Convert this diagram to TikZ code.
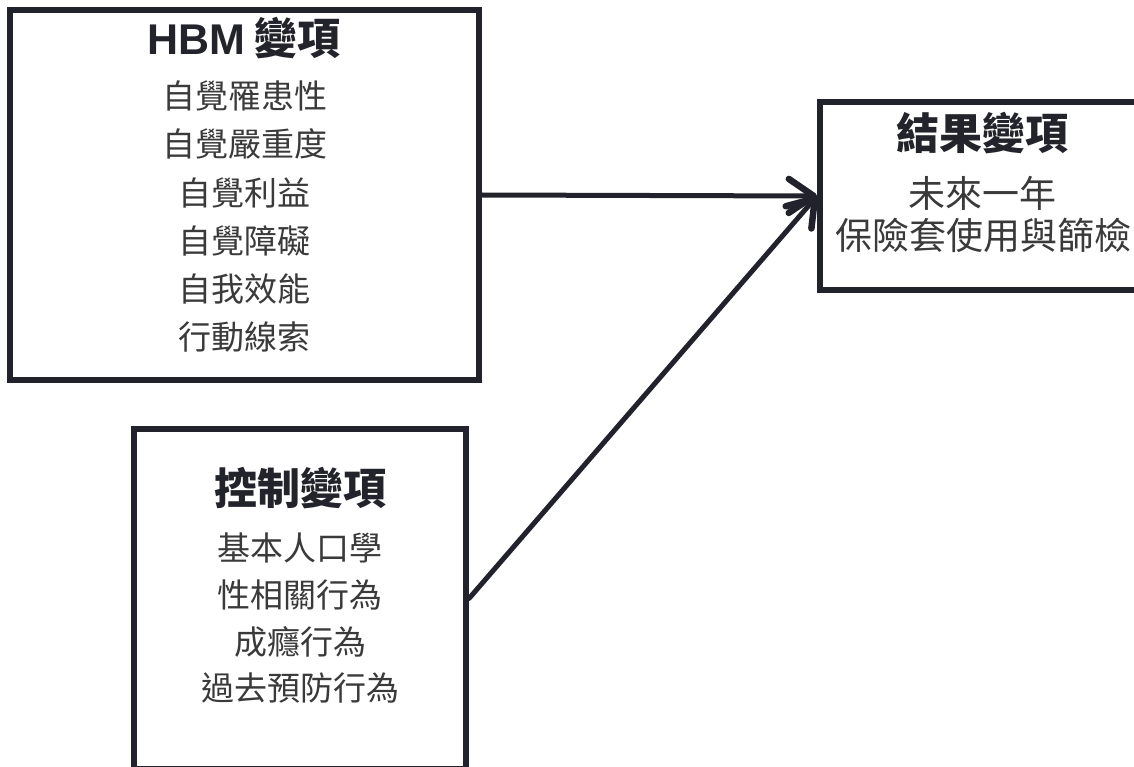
\documentclass[tikz,border=0pt]{standalone}
\usepackage{fontspec}
\setmainfont{Noto Sans CJK TC}
\newfontfamily\latinfont{Liberation Sans}
\usetikzlibrary{arrows.meta}
\definecolor{linec}{HTML}{22222C}
\definecolor{titlec}{HTML}{23232B}
\definecolor{itemc}{HTML}{3A3A3A}
\begin{document}
\begin{tikzpicture}[x=1pt,y=-1pt,
  box/.style={draw=linec,line width=6pt,rectangle,inner sep=0pt,fill=white},
  ttl/.style={inner sep=0pt,text height=37.8pt,text depth=5.2pt,text=titlec,font=\fontsize{43}{43}\selectfont\bfseries},
  itm/.style={inner sep=0pt,text height=29pt,text depth=4pt,text=itemc,font=\fontsize{33}{33}\selectfont},
  itmb/.style={inner sep=0pt,text height=32.6pt,text depth=4.4pt,text=itemc,font=\fontsize{37}{37}\selectfont},
  conn/.style={draw=linec,line width=5pt,line cap=round,
    -{Straight Barb[length=25pt,width=34pt,line width=6.5pt,round]}}]
\useasboundingbox (0,0) rectangle (1134,767);
\fill[white] (0,0) rectangle (1134,767);
\clip (0,0) rectangle (1134,767);
% boxes
\node[box,minimum width=469pt,minimum height=370pt] (hbm) at (244.5,195) {};
\node[box,minimum width=332pt,minimum height=340pt] (ctrl) at (300,598.5) {};
\node[box,minimum width=324pt,minimum height=188pt] (out) at (982,196) {};
% HBM texts
\node[ttl] (hbmt) at (244,38) {{\latinfont HBM} 變項};
\node[itm] (h1) at (244.5,96) {自覺罹患性};
\node[itm] (h2) at (244.5,144.5) {自覺嚴重度};
\node[itm] (h3) at (244.5,193) {自覺利益};
\node[itm] (h4) at (244.5,241) {自覺障礙};
\node[itm] (h5) at (244.5,289) {自我效能};
\node[itm] (h6) at (244.5,337) {行動線索};
% control texts
\node[ttl] (ctrlt) at (300,488) {控制變項};
\node[itm] (c1) at (300,548) {基本人口學};
\node[itm] (c2) at (300,595) {性相關行為};
\node[itm] (c3) at (300,642) {成癮行為};
\node[itm] (c4) at (300,688) {過去預防行為};
% outcome texts
\node[ttl] (outt) at (982,133) {結果變項};
\node[itmb] (o1) at (982,193) {未來一年};
\node[itmb] (o2) at (983,235) {保險套使用與篩檢};
% connectors
\draw[conn] (hbm.east) -- (out.west);
\draw[conn] (ctrl.east) -- (out.west);
\end{tikzpicture}
\end{document}
